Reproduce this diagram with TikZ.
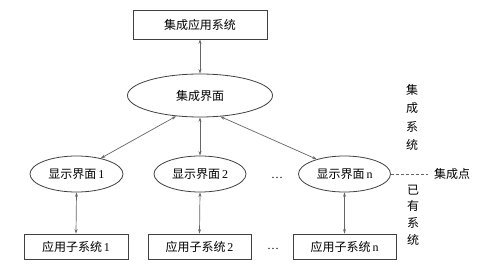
\documentclass[tikz,border=0pt]{standalone}
\usepackage{fontspec}
\setmainfont{Liberation Serif}
\newfontfamily\cjk{Noto Sans CJK SC}
\usetikzlibrary{arrows.meta,shapes.geometric}
\begin{document}
\begin{tikzpicture}[x=1pt,y=-1pt,
  lbl/.style={font=\fontsize{12}{14}\selectfont},
  boxnode/.style={draw=black!75,line width=0.8pt,rectangle,inner sep=0pt,lbl},
  ellnode/.style={draw=black!75,line width=0.8pt,ellipse,inner sep=0pt,lbl},
  link/.style={draw=black!60,line width=0.7pt,{Stealth[length=4.5pt,width=3pt]}-{Stealth[length=4.5pt,width=3pt]}},
  vtext/.style={lbl,align=center,inner sep=0pt}
]
\useasboundingbox[fill=white] (0,0) rectangle (483,276);
\node[boxnode,minimum width=134pt,minimum height=29pt] (app) at (200,24.5) {\cjk 集成应用系统};
\node[ellnode,minimum width=145pt,minimum height=43pt] (ui) at (200,95.5) {\cjk 集成界面};
\node[ellnode,minimum width=93pt,minimum height=36pt] (e1) at (76.5,174) {{\cjk 显示界面}\,1};
\node[ellnode,minimum width=92pt,minimum height=36pt] (e2) at (200,174) {{\cjk 显示界面}\,2};
\node[ellnode,minimum width=92pt,minimum height=36pt] (en) at (344.5,174) {{\cjk 显示界面}\,n};
\node[boxnode,minimum width=104pt,minimum height=25pt] (b1) at (76,246.5) {{\cjk 应用子系统}\,1};
\node[boxnode,minimum width=103pt,minimum height=25pt] (b2) at (199.5,246.5) {{\cjk 应用子系统}\,2};
\node[boxnode,minimum width=103pt,minimum height=25pt] (bn) at (344.5,246.5) {{\cjk 应用子系统}\,n};
\node[inner sep=0pt,lbl] (d1) at (277,178) {\dots};
\node[inner sep=0pt,lbl] (d2) at (273,249) {\dots};
\draw[link] (app.south) -- (ui.north);
\draw[link] (ui.221) -- (e1.33);
\draw[link] (ui.south) -- (e2.north);
\draw[link] (ui.314) -- (en.152);
\draw[link] (e1.south) -- (b1.north);
\draw[link] (e2.south) -- (b2.north);
\draw[link] (en.south) -- (bn.north);
\coordinate (dashend) at (428,174);
\draw[black!60,line width=0.7pt,dash pattern=on 3pt off 2pt] (en.east) -- (dashend);
\node[lbl,inner sep=0pt,anchor=west] (jcd) at (434,174) {\cjk 集成点};
\node[vtext,font=\fontsize{12}{18.5}\selectfont\cjk] (jcxt) at (412,117.5) {集\\成\\系\\统};
\node[vtext,font=\fontsize{12}{16.7}\selectfont\cjk] (yyxt) at (413,215) {已\\有\\系\\统};
\end{tikzpicture}
\end{document}
